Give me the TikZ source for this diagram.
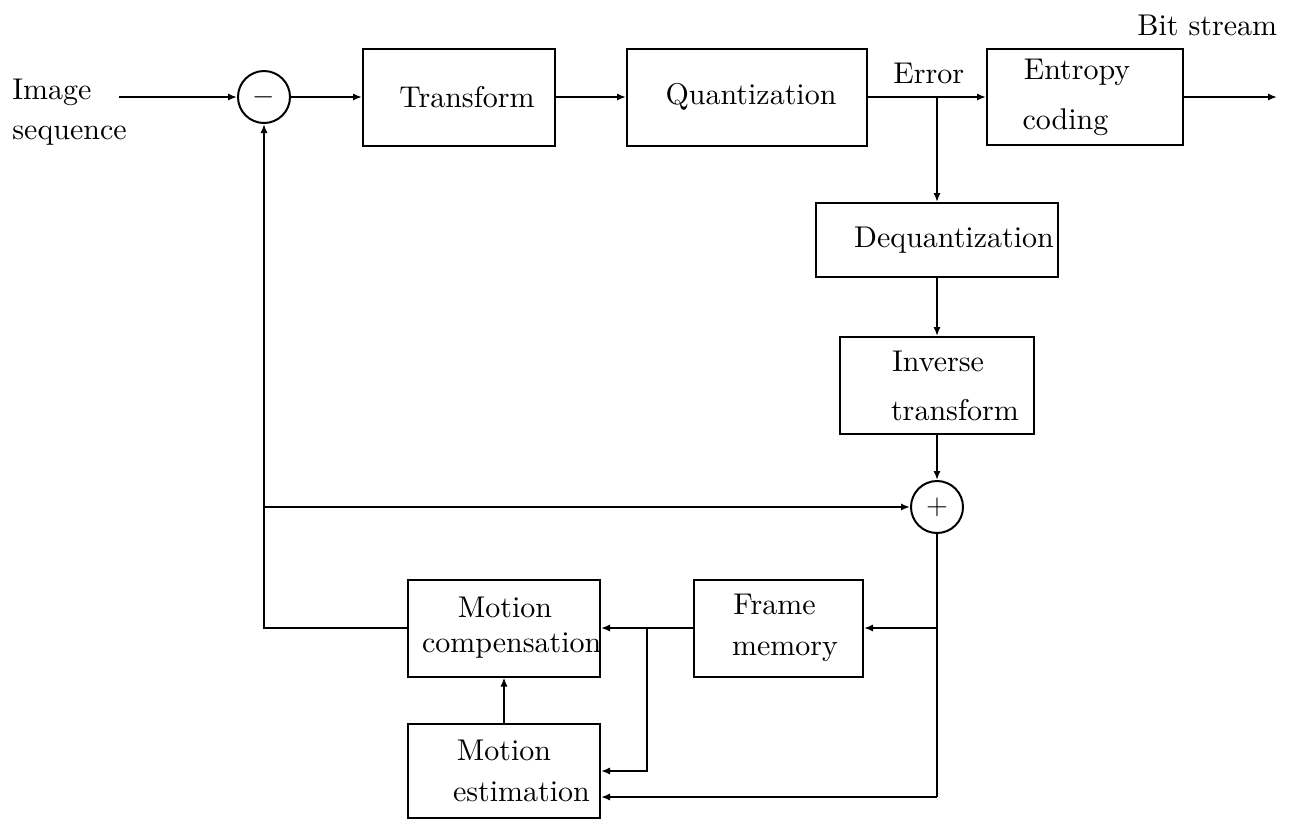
\documentclass[tikz,border=0pt]{standalone}
\usepackage{fontspec}
\setmainfont{lmroman10-regular}[Extension=.otf]
\usetikzlibrary{arrows.meta}
\newcommand\fsz{\fontsize{15}{17.5}\selectfont\hyphenpenalty=10000\exhyphenpenalty=10000\hbadness=10000\hfuzz=20pt}
\tikzset{
  blk/.style={draw, line width=1pt, inner xsep=0pt, inner ysep=0pt, align=center, font=\fsz},
  sumc/.style={draw, circle, line width=1pt, minimum size=26pt, inner sep=0pt, font=\fsz},
  lbl/.style={inner sep=0pt, font=\fsz},
  arr/.style={line width=1pt, -{Latex[length=4.5pt,width=3.6pt]}},
  ln/.style={line width=1pt},
}
\begin{document}
\begin{tikzpicture}[x=0.5pt,y=-0.5pt]
\useasboundingbox (0,0) rectangle (1296,821);
% labels
\node[lbl, align=left, anchor=west] (img) at (12,112.6) {Image\\[2.5pt]sequence};
\node[lbl, anchor=base west] (err) at (893,83) {Error};
\node[lbl, anchor=base west] (bits) at (1137,35) {Bit stream};
% summing junctions
\node[sumc] (minus) at (264,97) {$-$};
\node[sumc] (plus) at (937,507) {$+$};
% blocks
\node[blk, text width=96pt, minimum height=48.5pt] (tr) at (459,97) {\hspace*{8pt}Transform};
\node[blk, text width=120pt, minimum height=48.5pt] (qu) at (747,97) {\hspace*{4pt}Quantization};
\node[blk, text width=98pt, minimum height=48pt] (en) at (1085,97) {\hspace*{-8pt}Entropy\\[7.5pt]\hspace*{-19.5pt}coding};
\node[blk, text width=121pt, minimum height=37pt] (deq) at (937,240) {\hspace*{17pt}Dequantization};
\node[blk, text width=97pt, minimum height=48.5pt] (inv) at (937,385.5) {\hspace*{1pt}Inverse\\[7pt]\hspace*{18pt}transform};
\node[blk, text width=84.5pt, minimum height=48.5pt] (fm) at (778.5,628) {\hspace*{-4pt}Frame\\[3pt]\hspace*{6.5pt}memory};
\node[blk, text width=96pt, minimum height=48.5pt] (mc) at (504,628) {\hspace*{1pt}Motion\\\mbox{\hspace*{7pt}compensation}};
\node[blk, text width=96pt, minimum height=47pt] (me) at (504,771) {Motion\\[3pt]\hspace*{17.5pt}estimation};
% junction points
\coordinate (in) at (119,97);
\coordinate (out) at (1277,97);
\coordinate (br) at (937,97);
\coordinate (j1) at (937,628);
\coordinate (j2) at (937,797);
\coordinate (j3) at (647,628);
\coordinate (j4) at (264,507);
% connectors
\draw[arr] (in) -- (minus);
\draw[arr] (minus) -- (tr);
\draw[arr] (tr) -- (qu);
\draw[arr] (qu) -- (en);
\draw[arr] (en) -- (out);
\draw[arr] (br) -- (deq);
\draw[arr] (deq) -- (inv);
\draw[arr] (inv) -- (plus);
\draw[ln] (plus) -- (j2);
\draw[arr] (j1) -- (fm);
\draw[arr] (j2) -- (j2 -| me.east);
\draw[arr] (fm) -- (mc);
\draw[arr] (j3) |- (me);
\draw[arr] (me) -- (mc);
\draw[arr] (mc) -| (minus);
\draw[arr] (j4) -- (plus);
\end{tikzpicture}
\end{document}
